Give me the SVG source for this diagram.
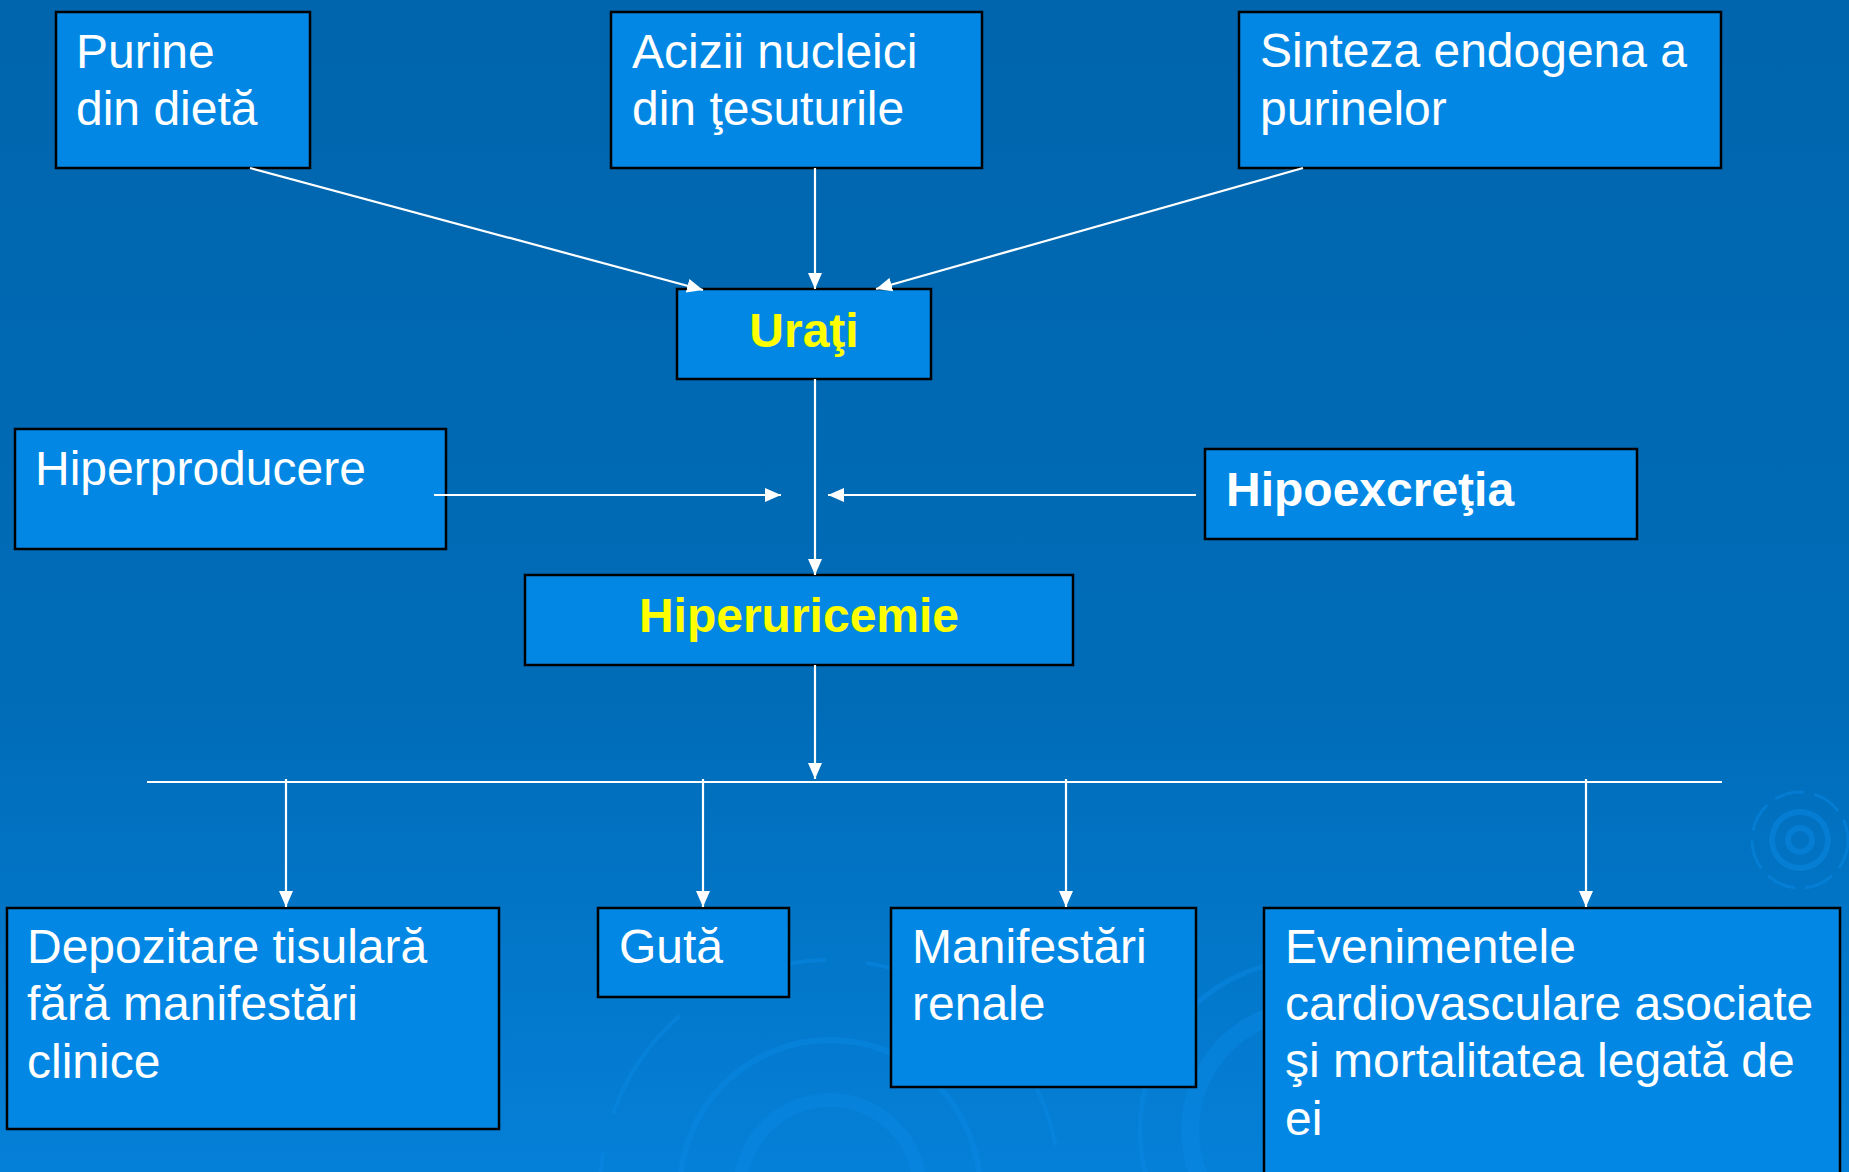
<svg xmlns="http://www.w3.org/2000/svg" width="1849" height="1172" viewBox="0 0 1849 1172">
<defs>
<linearGradient id="bg" x1="0" y1="0" x2="0" y2="1">
<stop offset="0" stop-color="#0065AD"/>
<stop offset="0.6" stop-color="#006CB8"/>
<stop offset="1" stop-color="#0580D8"/>
</linearGradient>
<marker id="ah" viewBox="0 0 16 14" refX="16" refY="7" markerWidth="16" markerHeight="14" markerUnits="userSpaceOnUse" orient="auto">
<path d="M0,0 L16,7 L0,14 z" fill="#ffffff"/>
</marker>
<style>
.box{fill:#0288E4;stroke:#000000;stroke-width:2.5}
.t{font-family:"Liberation Sans",Arial,sans-serif;font-size:48px;fill:#ffffff}
.b{font-weight:bold}
.y{fill:#FFFF00}
.c{stroke:#ffffff;stroke-width:2.2;fill:none}
.ring{fill:none;stroke:#0A86E2;opacity:0.55}
</style>
</defs>
<rect x="0" y="0" width="1849" height="1172" fill="url(#bg)"/>
<g id="decor">
<circle class="ring" cx="830" cy="1190" r="90" stroke-width="14"/>
<circle class="ring" cx="830" cy="1190" r="150" stroke-width="6"/>
<circle class="ring" cx="830" cy="1190" r="230" stroke-width="4" stroke-dasharray="120 40"/>
<circle class="ring" cx="1310" cy="1130" r="120" stroke-width="18"/>
<circle class="ring" cx="1310" cy="1130" r="170" stroke-width="5"/>
<circle class="ring" cx="1800" cy="840" r="12" stroke-width="6"/>
<circle class="ring" cx="1800" cy="840" r="28" stroke-width="6"/>
<circle class="ring" cx="1800" cy="840" r="48" stroke-width="3" stroke-dasharray="30 10"/>
</g>
<g id="purine">
<rect class="box" x="56" y="12" width="254" height="156"/>
<text class="t" x="76" y="68">Purine</text>
<text class="t" x="76" y="125">din dietă</text>
</g>
<g id="acizii">
<rect class="box" x="611" y="12" width="371" height="156"/>
<text class="t" x="632" y="68">Acizii nucleici</text>
<text class="t" x="632" y="125">din ţesuturile</text>
</g>
<g id="sinteza">
<rect class="box" x="1239" y="12" width="482" height="156"/>
<text class="t" x="1260" y="67">Sinteza endogena a</text>
<text class="t" x="1260" y="125">purinelor</text>
</g>
<g id="urati">
<rect class="box" x="677" y="289" width="254" height="90"/>
<text class="t b y" x="804" y="347" text-anchor="middle">Uraţi</text>
</g>
<g id="hiperproducere">
<rect class="box" x="15" y="429" width="431" height="120"/>
<text class="t" x="35" y="485">Hiperproducere</text>
</g>
<g id="hipoexcretia">
<rect class="box" x="1205" y="449" width="432" height="90"/>
<text class="t b" x="1226" y="506">Hipoexcreţia</text>
</g>
<g id="hiperuricemie">
<rect class="box" x="525" y="575" width="548" height="90"/>
<text class="t b y" x="799" y="632" text-anchor="middle">Hiperuricemie</text>
</g>
<g id="depozitare">
<rect class="box" x="7" y="908" width="492" height="221"/>
<text class="t" x="27" y="963">Depozitare tisulară</text>
<text class="t" x="27" y="1020">fără manifestări</text>
<text class="t" x="27" y="1078">clinice</text>
</g>
<g id="guta">
<rect class="box" x="598" y="908" width="191" height="89"/>
<text class="t" x="619" y="963">Gută</text>
</g>
<g id="manifestari">
<rect class="box" x="891" y="908" width="305" height="179"/>
<text class="t" x="912" y="963">Manifestări</text>
<text class="t" x="912" y="1020">renale</text>
</g>
<g id="evenimentele">
<rect class="box" x="1264" y="908" width="576" height="280"/>
<text class="t" x="1285" y="963">Evenimentele</text>
<text class="t" x="1285" y="1020">cardiovasculare asociate</text>
<text class="t" x="1285" y="1077">şi mortalitatea legată de</text>
<text class="t" x="1285" y="1135">ei</text>
</g>
<g id="connectors">
<line class="c" x1="250" y1="168" x2="703" y2="290" marker-end="url(#ah)"/>
<line class="c" x1="815" y1="168" x2="815" y2="289" marker-end="url(#ah)"/>
<line class="c" x1="1303" y1="168" x2="876" y2="289" marker-end="url(#ah)"/>
<line class="c" x1="815" y1="379" x2="815" y2="575" marker-end="url(#ah)"/>
<line class="c" x1="434" y1="495" x2="781" y2="495" marker-end="url(#ah)"/>
<line class="c" x1="1196" y1="495" x2="828" y2="495" marker-end="url(#ah)"/>
<line class="c" x1="815" y1="665" x2="815" y2="779" marker-end="url(#ah)"/>
<line class="c" x1="147" y1="782" x2="1722" y2="782"/>
<line class="c" x1="286" y1="779" x2="286" y2="907" marker-end="url(#ah)"/>
<line class="c" x1="703" y1="779" x2="703" y2="907" marker-end="url(#ah)"/>
<line class="c" x1="1066" y1="779" x2="1066" y2="907" marker-end="url(#ah)"/>
<line class="c" x1="1586" y1="779" x2="1586" y2="907" marker-end="url(#ah)"/>
</g>
</svg>
